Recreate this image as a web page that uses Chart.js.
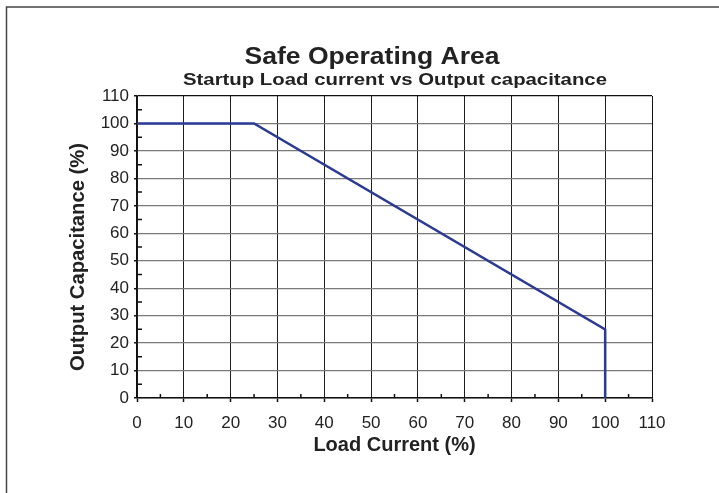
<!DOCTYPE html>
<html>
<head>
<meta charset="utf-8">
<script src="https://cdn.jsdelivr.net/npm/chart.js@4"></script>
<style>
  html, body { margin: 0; padding: 0; background: #fff; }
  #wrap { width: 719px; height: 493px; }
</style>
</head>
<body>
<div id="wrap"><canvas id="soa-chart" width="719" height="493"></canvas></div>
<script>
// chart data
let loadCurrent = [0, 25, 100, 100];
let outputCap = [100, 100, 25, 0];
let minorTicks = [5, 15, 25, 35, 45, 55, 65, 75, 85, 95, 105];

let titleText = 'Safe Operating Area';
let subtitleText = 'Startup Load current vs Output capacitance';
let yTitleText = 'Output Capacitance (%)';

let points = loadCurrent.map(function (x, i) {
  return { x: x, y: outputCap[i] };
});

let fontFamily = "'Liberation Sans', Arial, sans-serif";
Chart.defaults.font.family = fontFamily;
Chart.defaults.color = '#222';

// outer frame (top and left edge of the figure)
let framePlugin = {
  id: 'frame',
  beforeDraw: function (chart) {
    let c = chart.ctx;
    c.save();
    c.fillStyle = '#fff';
    c.fillRect(0, 0, chart.width, chart.height);
    c.strokeStyle = '#444';
    c.lineWidth = 1.5;
    c.beginPath();
    c.moveTo(6.5, chart.height);
    c.lineTo(6.5, 7);
    c.lineTo(chart.width, 7);
    c.stroke();
    c.restore();
  }
};

// draws a text stretched to a given width (the original lettering is wide)
function wideText(c, text, font, cx, by, width, rot) {
  c.save();
  c.font = font;
  c.fillStyle = '#222';
  c.textAlign = 'center';
  c.textBaseline = 'alphabetic';
  let w = c.measureText(text).width;
  c.translate(cx, by);
  if (rot) c.rotate(rot);
  c.scale(width / w, 1);
  c.fillText(text, 0, 0);
  c.restore();
}

let titlesPlugin = {
  id: 'titles',
  afterDraw: function (chart) {
    let c = chart.ctx;
    wideText(c, titleText, 'bold 23px ' + fontFamily, 372, 63.5, 255, 0);
    wideText(c, subtitleText, 'bold 16.5px ' + fontFamily, 395, 84.5, 424, 0);
    wideText(c, yTitleText, 'bold 19.5px ' + fontFamily, 84, 257, 228, -Math.PI / 2);
  }
};

// small inward ticks at the half steps
let minorTickPlugin = {
  id: 'minorTicks',
  afterDatasetsDraw: function (chart) {
    let c = chart.ctx;
    let xs = chart.scales.x;
    let ys = chart.scales.y;
    let area = chart.chartArea;
    c.save();
    c.strokeStyle = '#111';
    c.lineWidth = 1.5;
    c.beginPath();
    minorTicks.forEach(function (v) {
      let px = xs.getPixelForValue(v);
      c.moveTo(px, area.bottom);
      c.lineTo(px, area.bottom - 4);
      let py = ys.getPixelForValue(v);
      c.moveTo(area.left, py);
      c.lineTo(area.left + 5, py);
    });
    c.stroke();
    c.restore();
  }
};

let ctx = document.querySelector('#soa-chart').getContext('2d');

let soaChart = new Chart(ctx, {
  type: 'scatter',
  data: {
    datasets: [
      {
        label: 'SOA',
        data: points,
        showLine: true,
        borderColor: '#2b3a92',
        borderWidth: 2.5,
        pointRadius: 0,
        fill: false
      }
    ]
  },
  options: {
    responsive: false,
    animation: false,
    layout: { padding: { top: 96, left: 10, right: 67, bottom: 0 } },
    plugins: {
      legend: { display: false },
      tooltip: { enabled: false },
      title: { display: false }
    },
    scales: {
      x: {
        type: 'linear',
        min: 0,
        max: 110,
        afterFit: function (scale) { scale.height = 95; },
        ticks: { stepSize: 10, padding: 11, font: { size: 17 }, color: '#222', maxRotation: 0 },
        grid: {
          color: function (c) { return c.tick && c.tick.value === 110 ? '#111' : '#1e1e1e'; },
          lineWidth: 1,
          tickLength: 4,
          tickColor: '#111',
          tickWidth: 1.5
        },
        border: { color: '#111', width: 1.5 },
        title: {
          display: true,
          text: 'Load Current (%)',
          color: '#222',
          font: { size: 20, weight: 'bold' },
          padding: { top: 0, bottom: 36 }
        }
      },
      y: {
        type: 'linear',
        min: 0,
        max: 110,
        afterFit: function (scale) { scale.width = 127; },
        ticks: { stepSize: 10, padding: 5, font: { size: 17 }, color: '#222' },
        grid: {
          color: function (c) { return c.tick && c.tick.value === 110 ? '#111' : '#7a7a7a'; },
          lineWidth: 1.3,
          tickLength: 3,
          tickColor: '#111',
          tickWidth: 1.5
        },
        border: { color: '#111', width: 1.5 },
        title: { display: false }
      }
    }
  },
  plugins: [framePlugin, minorTickPlugin, titlesPlugin]
});
</script>
</body>
</html>
